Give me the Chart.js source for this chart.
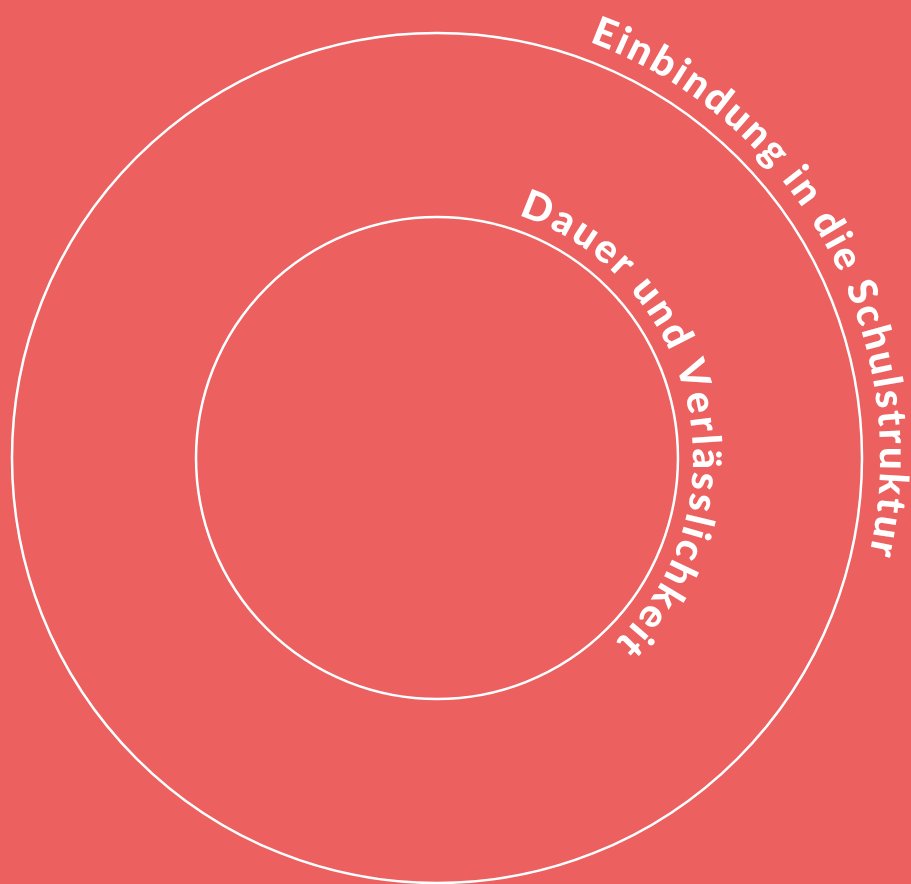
<!DOCTYPE html>
<html lang="de">
<head>
<meta charset="utf-8">
<title>Ringe</title>
<script src="https://cdn.jsdelivr.net/npm/chart.js@4.4.1/dist/chart.umd.min.js"></script>
<style>
  html, body { margin: 0; padding: 0; background: #ec6060; }
  .wrap { position: relative; width: 911px; height: 884px; }
</style>
</head>
<body>
<div class="wrap"><canvas id="rings"></canvas></div>
<script>
// inner ring first, outer ring last (radius in % of the outer ring)
const ringLabels = ['Dauer und Verlässlichkeit', 'Einbindung in die Schulstruktur'];
const ringValues = [56.7, 100];

// where each label sits on its ring: angles clockwise from 12 o'clock, gap above the line in px
const labelArcs = [
  { start: 18.5, end: 135.8, gap: 15 },
  { start: 20.1, end: 102.5, gap: 18 },
];

const curvedLabels = {
  id: 'curvedLabels',
  afterDraw(chart, args, opts) {
    const scale = chart.scales.r;
    const ctx = chart.ctx;
    ctx.save();
    ctx.fillStyle = opts.color;
    ctx.font = opts.font;
    ctx.textAlign = 'center';
    ctx.textBaseline = 'alphabetic';
    ringLabels.forEach((text, i) => {
      const arc = labelArcs[i];
      const radius = scale.getDistanceFromCenterForValue(ringValues[i]) + arc.gap;
      const chars = Array.from(text);
      const widths = chars.map((c) => ctx.measureText(c).width);
      const textWidth = widths.reduce((a, b) => a + b, 0);
      const arcLen = ((arc.end - arc.start) * Math.PI / 180) * radius;
      const spacing = (arcLen - textWidth) / (chars.length - 1);
      let theta = arc.start * Math.PI / 180;
      chars.forEach((c, k) => {
        const mid = theta + (widths[k] / 2) / radius;
        ctx.save();
        ctx.translate(scale.xCenter + radius * Math.sin(mid), scale.yCenter - radius * Math.cos(mid));
        ctx.rotate(mid);
        ctx.fillText(c, 0, 0);
        ctx.restore();
        theta += (widths[k] + spacing) / radius;
      });
    });
    ctx.restore();
  },
};

new Chart(document.getElementById('rings'), {
  type: 'polarArea',
  data: {
    labels: ringLabels,
    datasets: [{
      data: ringValues,
      backgroundColor: 'rgba(0,0,0,0)',
      borderWidth: 0,
    }],
  },
  options: {
    responsive: true,
    maintainAspectRatio: false,
    animation: false,
    events: [],
    layout: { padding: { left: 12, right: 49, top: 33, bottom: 1 } },
    plugins: {
      legend: { display: false },
      tooltip: { enabled: false },
      curvedLabels: { color: '#ffffff', font: "900 40px 'Lato', sans-serif" },
    },
    scales: {
      r: {
        min: 0,
        max: 100,
        afterBuildTicks: (s) => { s.ticks = [0, ...ringValues].map((v) => ({ value: v })); },
        ticks: { display: false },
        pointLabels: { display: false },
        angleLines: { display: false },
        grid: { circular: true, color: '#ffffff', lineWidth: 2.5 },
      },
    },
  },
  plugins: [curvedLabels],
});
</script>
</body>
</html>
